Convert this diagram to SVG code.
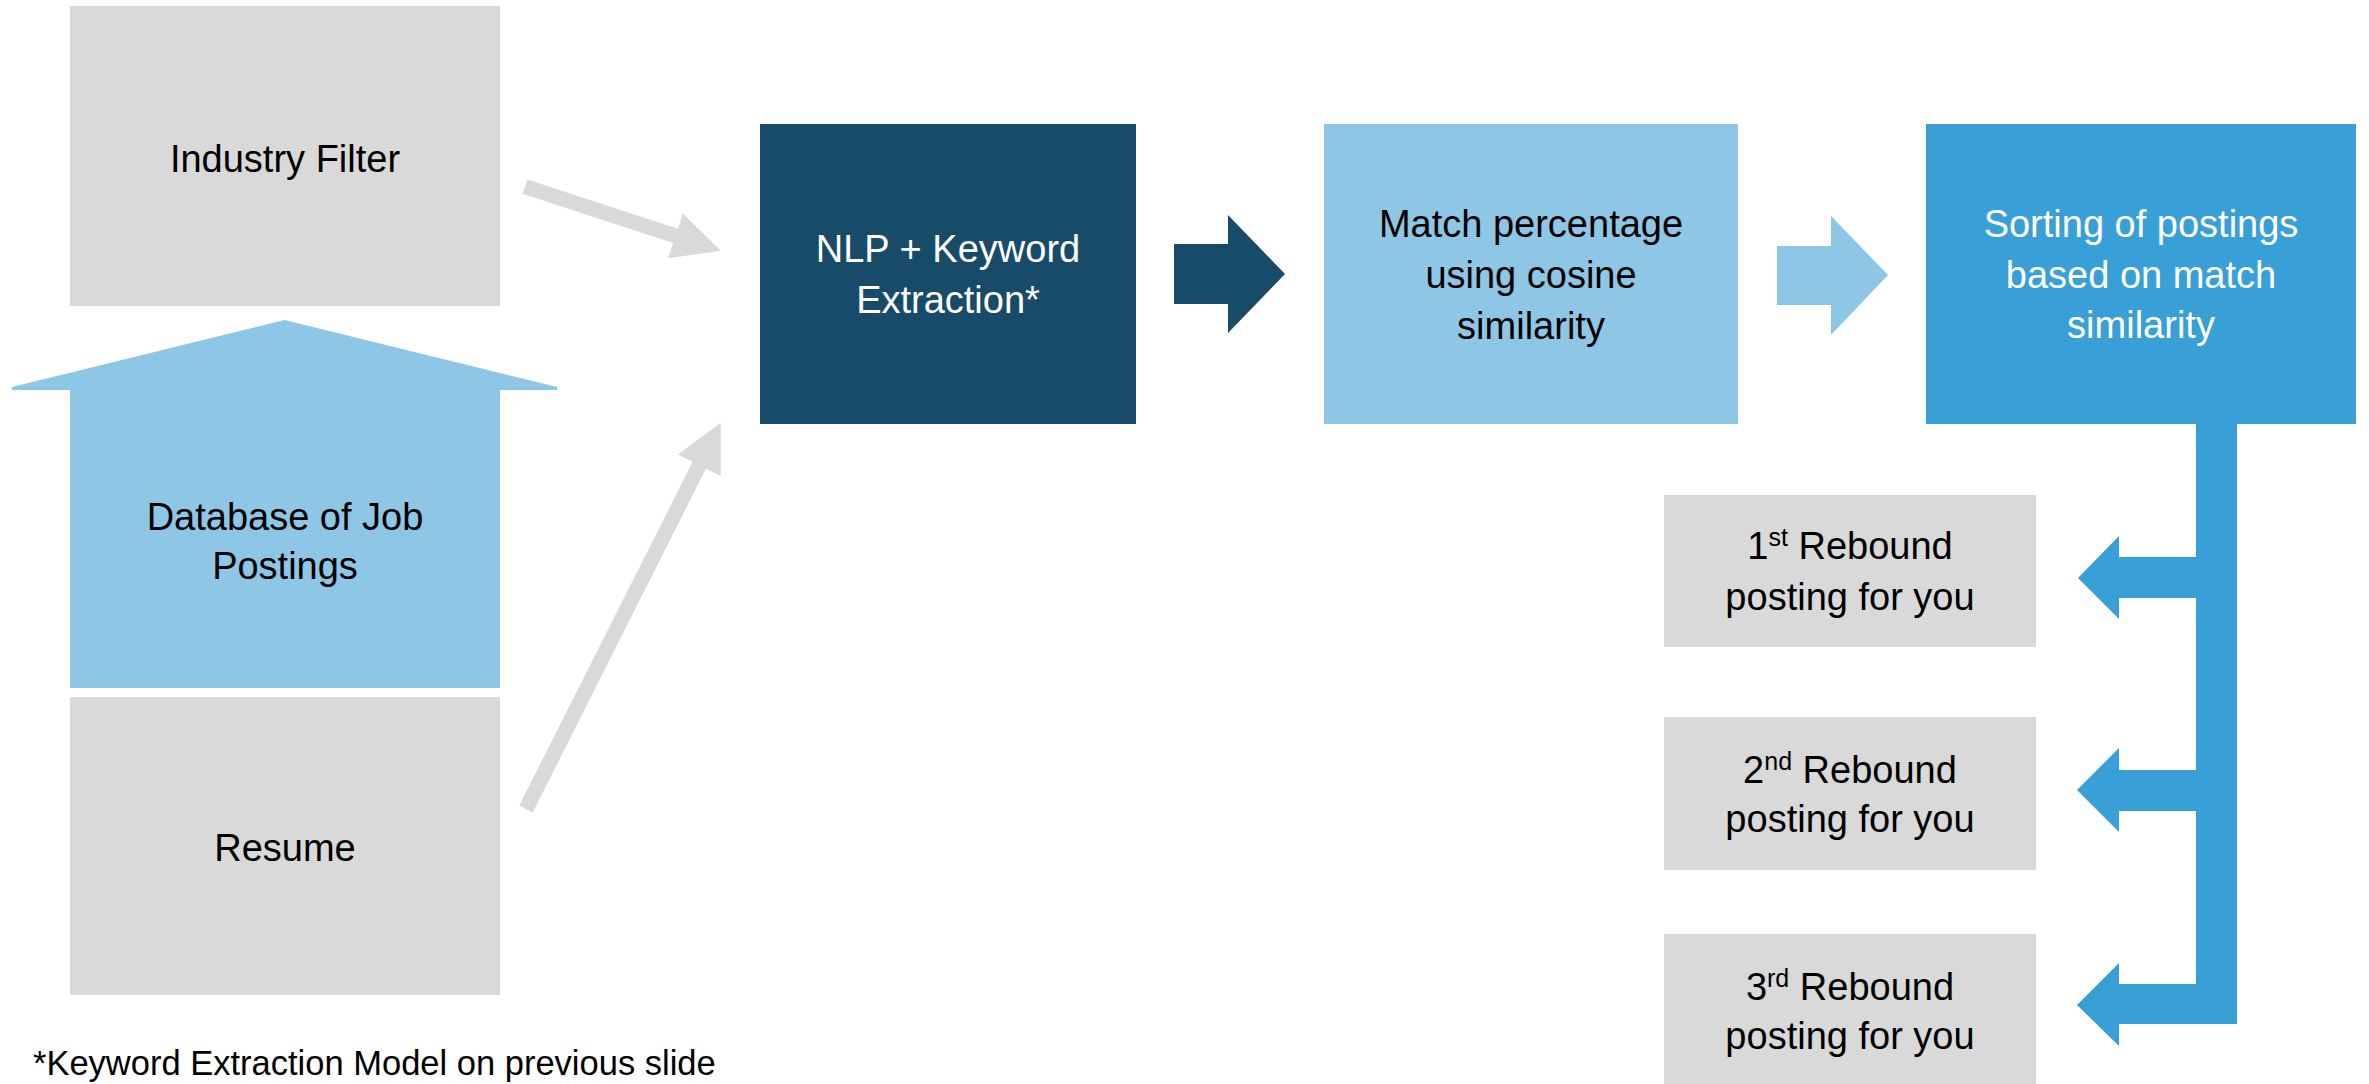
<svg xmlns="http://www.w3.org/2000/svg" width="2369" height="1084" viewBox="0 0 2369 1084">
<style>
  text { font-family: "Liberation Sans", Arial, sans-serif; font-size: 38px; text-anchor: middle; fill: #000; }
  .w { fill: #fff; }
  .gray { fill: #D9D9D9; }
  .lblue { fill: #8EC6E6; }
  .mblue { fill: #389FD7; }
  .dark { fill: #184B6A; }
  .sup { font-size: 25px; }
  .foot { font-size: 34.5px; text-anchor: start; }
</style>
<rect width="2369" height="1084" fill="#fff"/>

<g id="connectors">
  <polygon class="gray" transform="translate(525,186.7) rotate(18.1)" points="0,-7.5 158.4,-7.5 158.4,-23.5 205.9,0 158.4,23.5 158.4,7.5 0,7.5"/>
  <polygon class="gray" transform="translate(526,809) rotate(-63.25)" points="0,-7.5 385,-7.5 385,-24 432.6,0 385,24 385,7.5 0,7.5"/>
  <polygon class="dark" points="1174,244 1228,244 1228,215 1285,274 1228,333 1228,304 1174,304"/>
  <polygon class="lblue" points="1777,246 1831,246 1831,216 1888,275 1831,335 1831,305 1777,305"/>
  <g id="fanout">
    <rect class="mblue" x="2196" y="423" width="41" height="601"/>
    <polygon class="mblue" points="2196,557 2119,557 2119,536 2078,578 2119,619 2119,598 2196,598"/>
    <polygon class="mblue" points="2196,770 2119,770 2119,748 2077,790 2119,832 2119,811 2196,811"/>
    <polygon class="mblue" points="2196,984 2119,984 2119,963 2077,1005 2119,1046 2119,1024 2196,1024"/>
  </g>
</g>

<g id="industry-filter">
  <rect class="gray" x="70" y="6" width="430" height="300"/>
  <text x="285" y="172">Industry Filter</text>
</g>

<g id="database">
  <polygon class="lblue" points="284.5,320 557,387 557,390 500,390 500,688 70,688 70,390 12,390 12,387"/>
  <text x="285" y="530">Database of Job</text>
  <text x="285" y="579">Postings</text>
</g>

<g id="resume">
  <rect class="gray" x="70" y="697" width="430" height="298"/>
  <text x="285" y="861">Resume</text>
</g>

<g id="nlp">
  <rect class="dark" x="760" y="124" width="376" height="300"/>
  <text class="w" x="948" y="262">NLP + Keyword</text>
  <text class="w" x="948" y="313">Extraction*</text>
</g>

<g id="match">
  <rect class="lblue" x="1324" y="124" width="414" height="300"/>
  <text x="1531" y="237">Match percentage</text>
  <text x="1531" y="288">using cosine</text>
  <text x="1531" y="339">similarity</text>
</g>

<g id="sorting">
  <rect class="mblue" x="1926" y="124" width="430" height="300"/>
  <text class="w" x="2141" y="237">Sorting of postings</text>
  <text class="w" x="2141" y="288">based on match</text>
  <text class="w" x="2141" y="338">similarity</text>
</g>

<g id="rebound-1">
  <rect class="gray" x="1664" y="495" width="372" height="152"/>
  <text x="1850" y="559">1<tspan class="sup" dy="-13">st</tspan><tspan dy="13"> Rebound</tspan></text>
  <text x="1850" y="610">posting for you</text>
</g>

<g id="rebound-2">
  <rect class="gray" x="1664" y="717" width="372" height="153"/>
  <text x="1850" y="783">2<tspan class="sup" dy="-13">nd</tspan><tspan dy="13"> Rebound</tspan></text>
  <text x="1850" y="832">posting for you</text>
</g>

<g id="rebound-3">
  <rect class="gray" x="1664" y="934" width="372" height="160"/>
  <text x="1850" y="1000">3<tspan class="sup" dy="-13">rd</tspan><tspan dy="13"> Rebound</tspan></text>
  <text x="1850" y="1049">posting for you</text>
</g>

<g id="footnote">
  <text class="foot" x="33" y="1075">*Keyword Extraction Model on previous slide</text>
</g>
</svg>
